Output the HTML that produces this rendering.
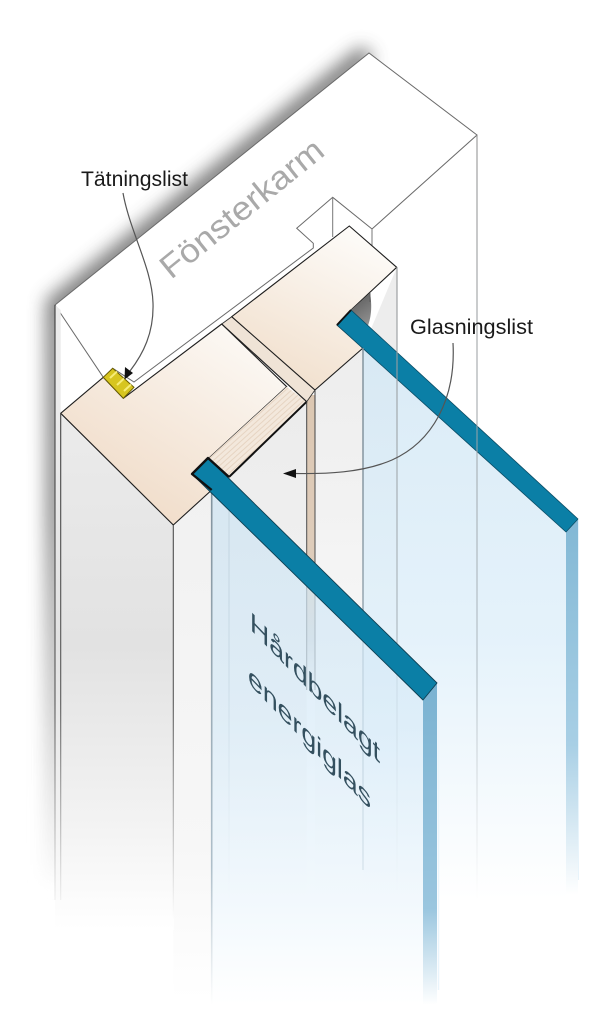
<!DOCTYPE html>
<html><head><meta charset="utf-8">
<style>
html,body{margin:0;padding:0;background:#fff;}
svg{display:block;}
text{font-family:"Liberation Sans",Arial,sans-serif;}
</style></head>
<body>
<svg width="600" height="1034" viewBox="0 0 600 1034" xmlns="http://www.w3.org/2000/svg">
<defs>
  <filter id="blur" x="-30%" y="-30%" width="160%" height="160%"><feGaussianBlur stdDeviation="9"/></filter>
  <linearGradient id="shadowFade" x1="0" y1="40" x2="0" y2="900" gradientUnits="userSpaceOnUse">
    <stop offset="0" stop-color="#5a5a5a"/><stop offset="0.55" stop-color="#777"/><stop offset="1" stop-color="#fff"/>
  </linearGradient>
  <linearGradient id="lf" x1="0" y1="300" x2="0" y2="920" gradientUnits="userSpaceOnUse">
    <stop offset="0" stop-color="#3a3a3a"/><stop offset="0.65" stop-color="#5a5a5a"/><stop offset="1" stop-color="#fff"/>
  </linearGradient>
  <linearGradient id="lfLight" x1="0" y1="130" x2="0" y2="900" gradientUnits="userSpaceOnUse">
    <stop offset="0" stop-color="#8a8a8a"/><stop offset="0.7" stop-color="#adb8bf"/><stop offset="1" stop-color="#fff"/>
  </linearGradient>
  <linearGradient id="lfGlass" x1="0" y1="450" x2="0" y2="1005" gradientUnits="userSpaceOnUse">
    <stop offset="0" stop-color="#7d8e99"/><stop offset="0.75" stop-color="#aebfca"/><stop offset="1" stop-color="#fff"/>
  </linearGradient>
  <linearGradient id="gLeft" x1="0" y1="413" x2="0" y2="930" gradientUnits="userSpaceOnUse">
    <stop offset="0" stop-color="#ebebeb"/><stop offset="0.45" stop-color="#e2e2e2"/><stop offset="0.78" stop-color="#f2f2f2"/><stop offset="1" stop-color="#fff"/>
  </linearGradient>
  <linearGradient id="gFront" x1="0" y1="490" x2="0" y2="1000" gradientUnits="userSpaceOnUse">
    <stop offset="0" stop-color="#f1f1f1"/><stop offset="0.7" stop-color="#f7f7f7"/><stop offset="1" stop-color="#fff"/>
  </linearGradient>
  <linearGradient id="gBead" x1="0" y1="400" x2="0" y2="900" gradientUnits="userSpaceOnUse">
    <stop offset="0" stop-color="#ececec"/><stop offset="0.6" stop-color="#f2f2f2"/><stop offset="1" stop-color="#fff"/>
  </linearGradient>
  <linearGradient id="gGap" x1="0" y1="395" x2="0" y2="700" gradientUnits="userSpaceOnUse">
    <stop offset="0" stop-color="#dcc7b2"/><stop offset="0.68" stop-color="#dfcebd"/><stop offset="0.8" stop-color="#d3d3d3"/><stop offset="1" stop-color="#fff"/>
  </linearGradient>
  <linearGradient id="gBackF" x1="0" y1="348" x2="0" y2="900" gradientUnits="userSpaceOnUse">
    <stop offset="0" stop-color="#ededed"/><stop offset="1" stop-color="#fff"/>
  </linearGradient>
  <linearGradient id="gGlassF" x1="0" y1="458" x2="0" y2="1005" gradientUnits="userSpaceOnUse">
    <stop offset="0" stop-color="#cce3f2"/><stop offset="0.5" stop-color="#d8ebf8"/><stop offset="0.82" stop-color="#edf6fc"/><stop offset="1" stop-color="#fff"/>
  </linearGradient>
  <linearGradient id="gGlassB" x1="0" y1="320" x2="0" y2="900" gradientUnits="userSpaceOnUse">
    <stop offset="0" stop-color="#d3e7f4"/><stop offset="0.55" stop-color="#e0f0fa"/><stop offset="1" stop-color="#fff"/>
  </linearGradient>
  <linearGradient id="gStripF" x1="0" y1="683" x2="0" y2="1005" gradientUnits="userSpaceOnUse">
    <stop offset="0" stop-color="#7ab2d1"/><stop offset="0.7" stop-color="#9ac6df"/><stop offset="1" stop-color="#fff"/>
  </linearGradient>
  <linearGradient id="gStripB" x1="0" y1="520" x2="0" y2="895" gradientUnits="userSpaceOnUse">
    <stop offset="0" stop-color="#82b8d5"/><stop offset="0.6" stop-color="#a8cfe5"/><stop offset="1" stop-color="#fff"/>
  </linearGradient>
  <linearGradient id="gCreamF" x1="260" y1="340" x2="140" y2="530" gradientUnits="userSpaceOnUse">
    <stop offset="0" stop-color="#fcf9f5"/><stop offset="1" stop-color="#f0dbc7"/>
  </linearGradient>
  <linearGradient id="gCreamB" x1="360" y1="235" x2="285" y2="390" gradientUnits="userSpaceOnUse">
    <stop offset="0" stop-color="#fdfbf8"/><stop offset="1" stop-color="#f1dfcc"/>
  </linearGradient>
  <linearGradient id="gRebate" x1="350" y1="300" x2="370" y2="330" gradientUnits="userSpaceOnUse">
    <stop offset="0" stop-color="#5e5e5e"/><stop offset="1" stop-color="#9a9a9a"/>
  </linearGradient>
  <pattern id="hatch" width="4" height="4" patternUnits="userSpaceOnUse" patternTransform="rotate(-42)">
    <rect width="4" height="4" fill="#f3e8dc"/>
    <line x1="0" y1="1" x2="4" y2="1" stroke="#e6d4c2" stroke-width="1"/>
  </pattern>
</defs>

<!-- shadow of frame -->
<g filter="url(#blur)" opacity="0.85">
  <polygon points="46,300 362,46 374,60 66,318 64,880 46,880" fill="url(#shadowFade)"/>
</g>
<polygon points="55,305 369,53 477,135 477,1034 55,1034" fill="#fff"/>

<!-- frame top face -->
<polygon points="55,305 369,53 477,135 372,229 332.7,197.3 296.7,228.3 313.3,243.3 313.3,248 134,382 112.7,368.3 103.3,377.3" fill="#fff" stroke="#6a6a6a" stroke-width="1"/>
<line x1="332.7" y1="197.3" x2="332.7" y2="237" stroke="#777" stroke-width="1"/>
<line x1="372" y1="229" x2="372" y2="246" stroke="#777" stroke-width="1"/>

<polygon points="55,305 60.7,310 60.7,1000 55,1000" fill="url(#gLeft)"/>

<!-- front sash vertical faces -->
<polygon points="60.7,413.3 173.3,525 173.3,945 60.7,945" fill="url(#gLeft)"/>
<polygon points="173.3,525 211.7,490 211.7,1005 173.3,1005" fill="url(#gFront)"/>
<polygon points="211.7,458 306.7,401.7 306.7,905 211.7,905" fill="url(#gBead)"/>
<rect x="306.7" y="395" width="8.6" height="305" fill="url(#gGap)"/>
<polygon points="315,390 363,348 363,905 315,905" fill="url(#gBackF)"/>
<polygon points="363,348 397,267 397,905 363,905" fill="url(#gBackF)"/>

<polygon points="221.7,324 231.7,316.7 315,390 306.7,401.7" fill="#efe3d6" stroke="#333" stroke-width="0.9"/>

<!-- back sash cream -->
<polygon points="231.7,316.7 349.3,226 396.7,267.3 351,310 337,325 363,348 315,390" fill="url(#gCreamB)" stroke="#1e1e1e" stroke-width="1.1" stroke-linejoin="round"/>
<path d="M351,310 L370,293 C372,305 372,318 366,330 Z" fill="url(#gRebate)"/>
<line x1="370" y1="293" x2="370" y2="302" stroke="#555" stroke-width="0.8"/>

<!-- back glass -->
<polygon points="363,348 566,532 566,905 363,905" fill="url(#gGlassB)" opacity="0.85"/>
<polygon points="566,532 578,519 578,895 566,900" fill="url(#gStripB)"/>
<line x1="578.5" y1="520" x2="578.5" y2="880" stroke="#e8f4fb" stroke-width="1"/>
<polygon points="351,310 578,519 566,532 337,325" fill="#0b7fa6" stroke="#0b4d66" stroke-width="0.8" stroke-linejoin="round"/>
<line x1="337" y1="325" x2="351" y2="310" stroke="#111" stroke-width="2"/>

<line x1="477" y1="135" x2="477" y2="900" stroke="url(#lfLight)" stroke-width="1"/>
<line x1="397" y1="267" x2="397" y2="890" stroke="url(#lfLight)" stroke-width="1.1"/>
<line x1="363" y1="348" x2="363" y2="870" stroke="url(#lfGlass)" stroke-width="1.4"/>

<!-- front sash cream -->
<polygon points="60.7,413.3 103.3,377.3 123.3,398.3 221.7,324 286.7,386.7 209,458 192,474 211.7,490 173.3,525" fill="url(#gCreamF)" stroke="#1e1e1e" stroke-width="1.1" stroke-linejoin="round"/>
<polygon points="286.7,386.7 306.7,401.7 229,477 209,458" fill="url(#hatch)"/>
<line x1="221.7" y1="324" x2="306.7" y2="401.7" stroke="#222" stroke-width="1.1"/>
<line x1="306.7" y1="401.7" x2="229" y2="477" stroke="#111" stroke-width="2"/>
<!-- seal -->
<polygon points="103.3,377.3 112.7,368.3 134,387.3 123.3,398.3" fill="#d7c520" stroke="#6b5e00" stroke-width="1"/>
<line x1="110" y1="378" x2="117" y2="371.5" stroke="#f6ec78" stroke-width="2"/>
<line x1="117" y1="385" x2="124" y2="378.5" stroke="#f6ec78" stroke-width="2"/>
<line x1="124" y1="391" x2="131" y2="384.5" stroke="#f6ec78" stroke-width="2"/>

<line x1="55" y1="305" x2="55" y2="900" stroke="url(#lf)" stroke-width="1.1"/>
<line x1="60.7" y1="413" x2="60.7" y2="900" stroke="url(#lf)" stroke-width="1.1"/>
<line x1="173.3" y1="525" x2="173.3" y2="930" stroke="url(#lf)" stroke-width="1.1"/>
<line x1="306.7" y1="401.7" x2="306.7" y2="690" stroke="url(#lf)" stroke-width="1"/>
<line x1="315" y1="390" x2="315" y2="690" stroke="url(#lf)" stroke-width="1"/>
<line x1="229" y1="477" x2="229" y2="1000" stroke="url(#lfLight)" stroke-width="1"/>

<!-- front glass -->
<polygon points="211.7,490 423,700 423,1008 211.7,1008" fill="url(#gGlassF)" opacity="0.7"/>
<line x1="211.7" y1="490" x2="211.7" y2="1005" stroke="url(#lfGlass)" stroke-width="1.6"/>
<polygon points="423,700 437,683 437,1003 423,1008" fill="url(#gStripF)"/>
<line x1="438.5" y1="683" x2="438.5" y2="990" stroke="#eaf5fc" stroke-width="1.5"/>
<polygon points="208,458 437,683 423,700 192,474" fill="#0b7fa6" stroke="#0d3f52" stroke-width="0.9" stroke-linejoin="round"/>
<path d="M211.7,490 L192,474 L208,458 L229,477" fill="none" stroke="#111" stroke-width="2.4" stroke-linejoin="round"/>

<!-- labels -->
<text x="81" y="186" font-size="21" fill="#1a1a1a" textLength="107" lengthAdjust="spacingAndGlyphs">Tätningslist</text>
<text x="410" y="334" font-size="21" fill="#1a1a1a" textLength="123" lengthAdjust="spacingAndGlyphs">Glasningslist</text>
<text transform="translate(171,280) rotate(-39)" font-size="33" fill="#a9a9a9" textLength="200" lengthAdjust="spacingAndGlyphs">Fönsterkarm</text>
<g transform="translate(250,629) skewY(46)" fill="#34505f">
  <text x="0" y="0" font-size="27" textLength="130" lengthAdjust="spacingAndGlyphs">Hårdbelagt</text>
  <text x="-2" y="56" font-size="27" textLength="123" lengthAdjust="spacingAndGlyphs">energiglas</text>
</g>

<path d="M123,193 C130,232 152,268 153,303 C154,333 143,354 130,371" fill="none" stroke="#555" stroke-width="1.2"/>
<polygon points="124.5,379.5 125,367 133,373" fill="#111"/>
<path d="M453,343 C456,400 432,442 392,460 C362,473 325,474 295,473.5" fill="none" stroke="#555" stroke-width="1.2"/>
<polygon points="283,473.5 296,469 296,478" fill="#111"/>
</svg>
</body></html>
